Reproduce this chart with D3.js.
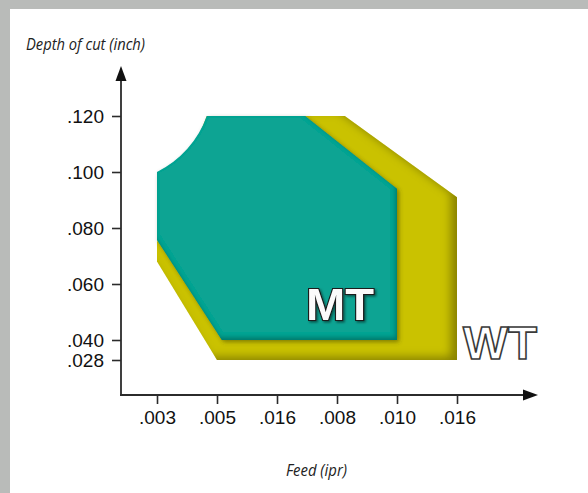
<!DOCTYPE html>
<html><head><meta charset="utf-8">
<script src="https://cdn.jsdelivr.net/npm/d3@7"></script>
<style>
html,body{margin:0;padding:0;background:#fff;}
svg{display:block;}
</style></head>
<body>
<script>
// ---- data ----
const feedLabels = [".003", ".005", ".016", ".008", ".010", ".016"];
const depthTicks = [0.120, 0.100, 0.080, 0.060, 0.040, 0.028];
const depthLabels = [".120", ".100", ".080", ".060", ".040", ".028"];
// polygon vertices: [feed index position, depth]
const wtPoly = [[0, 0.075], [0, 0.068], [1.0, 0.028], [5.0, 0.028], [5.0, 0.091], [3.13, 0.120], [0.83, 0.120]];
const mtPoly = [[0.83, 0.120], [2.47, 0.120], [4.0, 0.094], [4.0, 0.040], [1.08, 0.040], [0, 0.0757], [0, 0.100]];
const mtArcFrom = [0, 0.100], mtArcTo = [0.83, 0.120];

const W = 588, H = 493;
const svg = d3.select("body").append("svg").attr("width", W).attr("height", H);
const defs = svg.append("defs");

// grey frame
svg.append("rect").attr("x", 0).attr("y", 0).attr("width", W).attr("height", 9).attr("fill", "#b9bbb9");
svg.append("rect").attr("x", 0).attr("y", 0).attr("width", 10).attr("height", H).attr("fill", "#b9bbb9");

const x = d3.scaleLinear().domain([0, 5]).range([157, 457]);
const y = d3.scaleLinear().domain([0.028, 0.040, 0.120]).range([360, 340, 116]);

// filters
function innerShadow(id, color, dx, dy, sd, op) {
  const f = defs.append("filter").attr("id", id).attr("x", "-10%").attr("y", "-10%").attr("width", "120%").attr("height", "120%");
  f.append("feGaussianBlur").attr("in", "SourceAlpha").attr("stdDeviation", sd).attr("result", "b");
  f.append("feOffset").attr("in", "b").attr("dx", dx).attr("dy", dy).attr("result", "o");
  f.append("feComposite").attr("in", "SourceAlpha").attr("in2", "o").attr("operator", "out").attr("result", "edge");
  f.append("feFlood").attr("flood-color", color).attr("flood-opacity", op).attr("result", "c");
  f.append("feComposite").attr("in", "c").attr("in2", "edge").attr("operator", "in").attr("result", "sh");
  const m = f.append("feMerge");
  m.append("feMergeNode").attr("in", "SourceGraphic");
  m.append("feMergeNode").attr("in", "sh");
}
innerShadow("wtIn", "#6a6500", -7, -4, 4, 0.75);
innerShadow("mtIn", "#05685d", -2, -3, 2, 0.75);

const ds = defs.append("filter").attr("id", "drop").attr("x", "-10%").attr("y", "-10%").attr("width", "120%").attr("height", "120%");
ds.append("feGaussianBlur").attr("in", "SourceAlpha").attr("stdDeviation", 2).attr("result", "b");
ds.append("feOffset").attr("in", "b").attr("dx", 2).attr("dy", 2).attr("result", "o");
ds.append("feFlood").attr("flood-color", "#3d3a00").attr("flood-opacity", 0.5);
ds.append("feComposite").attr("in2", "o").attr("operator", "in").attr("result", "s");
const dm = ds.append("feMerge"); dm.append("feMergeNode").attr("in", "s"); dm.append("feMergeNode").attr("in", "SourceGraphic");

// WT polygon
const line = d3.line().x(d => x(d[0])).y(d => y(d[1]));
svg.append("path").attr("d", line(wtPoly) + "Z").attr("fill", "#cac200").attr("filter", "url(#wtIn)");

// MT polygon with concave arc
const arcR = 100;
const mtPath = line(mtPoly) + `A${arcR},${arcR} 0 0 0 ${x(mtArcTo[0])},${y(mtArcTo[1])}Z`;
const mtG = svg.append("g").attr("filter", "url(#drop)");
mtG.append("path").attr("d", mtPath).attr("fill", "#0aa493").attr("filter", "url(#mtIn)");

// axes
const axisColor = "#2b2b2b";
const yAxis = svg.append("g").attr("transform", "translate(121,0)")
  .call(d3.axisLeft(y).tickValues(depthTicks).tickFormat((d, i) => depthLabels[i]).tickSize(9).tickPadding(8).tickSizeOuter(0));
const xAxis = svg.append("g").attr("transform", "translate(0,395)")
  .call(d3.axisBottom(x).tickValues(d3.range(feedLabels.length)).tickFormat(i => feedLabels[i]).tickSize(9).tickPadding(7).tickSizeOuter(0));
[yAxis, xAxis].forEach(g => {
  g.select(".domain").remove();
  g.selectAll(".tick line").attr("stroke", axisColor).attr("stroke-width", 1.6);
  g.selectAll(".tick text").attr("font-family", "'Liberation Sans', Arial, sans-serif").attr("font-size", 19).attr("fill", "#111");
});
svg.append("line").attr("x1", 121).attr("y1", 395).attr("x2", 121).attr("y2", 76).attr("stroke", axisColor).attr("stroke-width", 1.8);
svg.append("path").attr("d", "M121,66 L115.5,81 L126.5,81 Z").attr("fill", "#111");
svg.append("line").attr("x1", 120).attr("y1", 395).attr("x2", 528).attr("y2", 395).attr("stroke", axisColor).attr("stroke-width", 1.8);
svg.append("path").attr("d", "M538,395 L523,389.5 L523,400.5 Z").attr("fill", "#111");

// axis titles
svg.append("text").attr("x", 26).attr("y", 50).attr("font-family", "'Open Sans', sans-serif").attr("font-style", "italic")
  .attr("font-size", 17).attr("textLength", 119).attr("lengthAdjust", "spacingAndGlyphs").attr("fill", "#222").text("Depth of cut (inch)");
svg.append("text").attr("x", 286).attr("y", 476).attr("font-family", "'Open Sans', sans-serif").attr("font-style", "italic")
  .attr("font-size", 17).attr("textLength", 61).attr("lengthAdjust", "spacingAndGlyphs").attr("fill", "#222").text("Feed (ipr)");

// labels
const ts = defs.append("filter").attr("id", "tsh").attr("x", "-20%").attr("y", "-20%").attr("width", "140%").attr("height", "140%");
ts.append("feDropShadow").attr("dx", 1.5).attr("dy", 1.5).attr("stdDeviation", 1).attr("flood-color", "#000").attr("flood-opacity", 0.5);

svg.append("text").attr("x", 340).attr("y", 320).attr("text-anchor", "middle")
  .attr("font-family", "'Liberation Sans', Arial, sans-serif").attr("font-weight", "bold").attr("font-size", 45)
  .attr("textLength", 68).attr("lengthAdjust", "spacingAndGlyphs")
  .attr("fill", "#fbfbfb").attr("stroke", "#1a1a1a").attr("stroke-width", 2.2).attr("paint-order", "stroke")
  .attr("filter", "url(#tsh)").text("MT");
svg.append("text").attr("x", 500).attr("y", 359).attr("text-anchor", "middle")
  .attr("font-family", "'Liberation Sans', Arial, sans-serif").attr("font-weight", "bold").attr("font-size", 47)
  .attr("textLength", 74).attr("lengthAdjust", "spacingAndGlyphs")
  .attr("fill", "#ffffff").attr("stroke", "#3a3a3a").attr("stroke-width", 1.6)
  .text("WT");
</script>
</body></html>
